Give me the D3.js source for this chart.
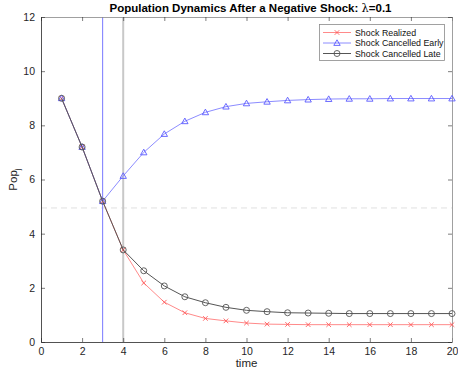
<!DOCTYPE html>
<html>
<head>
<meta charset="utf-8">
<script src="https://cdn.jsdelivr.net/npm/d3@7"></script>
<style>
  html, body { margin: 0; padding: 0; background: #fff; }
  svg { display: block; font-family: "Liberation Sans", Arial, Helvetica, sans-serif; }
</style>
</head>
<body>
<svg id="chart" width="458" height="369"></svg>
<script>
// Time steps and population paths
const time = d3.range(1, 21);
const shockRealized = [9.0, 7.2, 5.2, 3.4, 2.18, 1.47, 1.08, 0.87, 0.78, 0.70, 0.66, 0.65, 0.64, 0.64, 0.64, 0.64, 0.64, 0.64, 0.64, 0.64];
const cancelledEarly = [9.0, 7.2, 5.2, 6.13, 7.00, 7.68, 8.15, 8.48, 8.69, 8.81, 8.87, 8.92, 8.95, 8.97, 8.98, 8.98, 8.99, 8.99, 8.99, 8.99];
const cancelledLate = [9.0, 7.2, 5.2, 3.4, 2.63, 2.07, 1.67, 1.45, 1.28, 1.17, 1.12, 1.08, 1.07, 1.06, 1.05, 1.05, 1.05, 1.05, 1.05, 1.05];
const xTicks = d3.range(0, 21, 2);
const yTicks = d3.range(0, 13, 2);
const shockEarlyTime = 3;
const shockLateTime = 4;
const threshold = 4.95;
const seriesNames = ["Shock Realized", "Shock Cancelled Early", "Shock Cancelled Late"];

const svg = d3.select("#chart");
const margin = { left: 41, right: 6, top: 17, bottom: 27 };
const W = 458, H = 369;
const x = d3.scaleLinear().domain([0, 20]).range([margin.left, W - margin.right]);
const y = d3.scaleLinear().domain([0, 12]).range([H - margin.bottom, margin.top]);

const axisColor = "#262626";

// Reference lines
svg.append("line")
  .attr("x1", x(0)).attr("x2", x(20))
  .attr("y1", y(threshold)).attr("y2", y(threshold))
  .attr("stroke", "#e0e0e0").attr("stroke-width", 1)
  .attr("stroke-dasharray", "6,4");
svg.append("line")
  .attr("x1", x(shockEarlyTime)).attr("x2", x(shockEarlyTime))
  .attr("y1", y(0)).attr("y2", y(12))
  .attr("stroke", "#7878ff").attr("stroke-width", 1);
svg.append("line")
  .attr("x1", x(shockLateTime)).attr("x2", x(shockLateTime))
  .attr("y1", y(0)).attr("y2", y(12))
  .attr("stroke", "#c8c8c8").attr("stroke-width", 2);

// Axes
const gx = svg.append("g").attr("transform", `translate(0,${y(0)})`)
  .call(d3.axisBottom(x).tickValues(xTicks).tickSizeInner(-4).tickSizeOuter(0).tickPadding(6));
const gxTop = svg.append("g").attr("transform", `translate(0,${y(12)})`)
  .call(d3.axisTop(x).tickValues(xTicks).tickSizeInner(-4).tickSizeOuter(0).tickFormat(""));
const gy = svg.append("g").attr("transform", `translate(${x(0)},0)`)
  .call(d3.axisLeft(y).tickValues(yTicks).tickSizeInner(-4).tickSizeOuter(0).tickPadding(6));
const gyRight = svg.append("g").attr("transform", `translate(${x(20)},0)`)
  .call(d3.axisRight(y).tickValues(yTicks).tickSizeInner(-4).tickSizeOuter(0).tickFormat(""));
[gx, gxTop, gy, gyRight].forEach(g => {
  g.select(".domain").attr("stroke", axisColor).attr("stroke-width", 0.8);
  g.selectAll(".tick line").attr("stroke", axisColor).attr("stroke-width", 0.6);
  g.selectAll(".tick text").attr("fill", axisColor).attr("font-size", 10.5)
    .attr("font-family", "Liberation Sans, Arial, sans-serif");
});
gyRight.select(".domain").attr("stroke", "#888");
gxTop.select(".domain").attr("stroke", "#888");

// Series
const line = d3.line().x((d, i) => x(time[i])).y(d => y(d));
const series = [
  { name: seriesNames[0], values: shockRealized, line: "#ff8a8a", mark: "#ff5a5a", marker: "x" },
  { name: seriesNames[1], values: cancelledEarly, line: "#8c8cff", mark: "#5a5aff", marker: "tri" },
  { name: seriesNames[2], values: cancelledLate, line: "#555555", mark: "#555555", marker: "circle" }
];

function drawMarker(g, type, cx, cy, color) {
  if (type === "x") {
    const s = 2.3;
    g.append("path")
      .attr("d", `M${cx - s},${cy - s}L${cx + s},${cy + s}M${cx - s},${cy + s}L${cx + s},${cy - s}`)
      .attr("stroke", color).attr("stroke-width", 0.9).attr("fill", "none");
  } else if (type === "tri") {
    const s = 3.2;
    g.append("path")
      .attr("d", `M${cx},${cy - s}L${cx + s},${cy + s * 0.75}L${cx - s},${cy + s * 0.75}Z`)
      .attr("stroke", color).attr("stroke-width", 0.9).attr("fill", "none");
  } else {
    g.append("circle").attr("cx", cx).attr("cy", cy).attr("r", 3)
      .attr("stroke", color).attr("stroke-width", 0.9).attr("fill", "none");
  }
}

series.forEach(s => {
  const g = svg.append("g");
  g.append("path").datum(s.values)
    .attr("d", line).attr("fill", "none")
    .attr("stroke", s.line).attr("stroke-width", 1);
  s.values.forEach((v, i) => drawMarker(g, s.marker, x(time[i]), y(v), s.mark));
});

// Title
const title = svg.append("text")
  .attr("x", (x(0) + x(20)) / 2 + 4).attr("y", 12)
  .attr("text-anchor", "middle")
  .attr("font-size", 11.5).attr("font-weight", "bold").attr("fill", "#000");
title.append("tspan").text("Population Dynamics After a Negative Shock: ");
title.append("tspan").attr("font-family", "DejaVu Serif, serif").attr("font-weight", "normal").text("λ");
title.append("tspan").text("=0.1");

// Axis labels
svg.append("text")
  .attr("x", (x(0) + x(20)) / 2).attr("y", 367)
  .attr("text-anchor", "middle").attr("font-size", 11.5).attr("fill", axisColor)
  .text("time");
const yl = svg.append("text")
  .attr("transform", `translate(17,${(y(0) + y(12)) / 2}) rotate(-90)`)
  .attr("text-anchor", "middle").attr("font-size", 11.5).attr("fill", axisColor);
yl.append("tspan").text("Pop");
yl.append("tspan").attr("font-size", 8).attr("dy", 3).text("j");

// Legend
const lg = svg.append("g");
lg.append("rect").attr("x", 319.5).attr("y", 24.5).attr("width", 125).attr("height", 36)
  .attr("fill", "#fff").attr("stroke", "#8a8a8a").attr("stroke-width", 0.8);
series.forEach((s, i) => {
  const ly = 32.5 + i * 10.5;
  lg.append("line").attr("x1", 323).attr("x2", 351).attr("y1", ly).attr("y2", ly)
    .attr("stroke", s.line).attr("stroke-width", 1);
  drawMarker(lg, s.marker, 337, ly, s.mark);
  lg.append("text").attr("x", 355).attr("y", ly + 3.2)
    .attr("font-size", 8.8).attr("fill", "#111").text(s.name);
});
</script>
</body>
</html>
